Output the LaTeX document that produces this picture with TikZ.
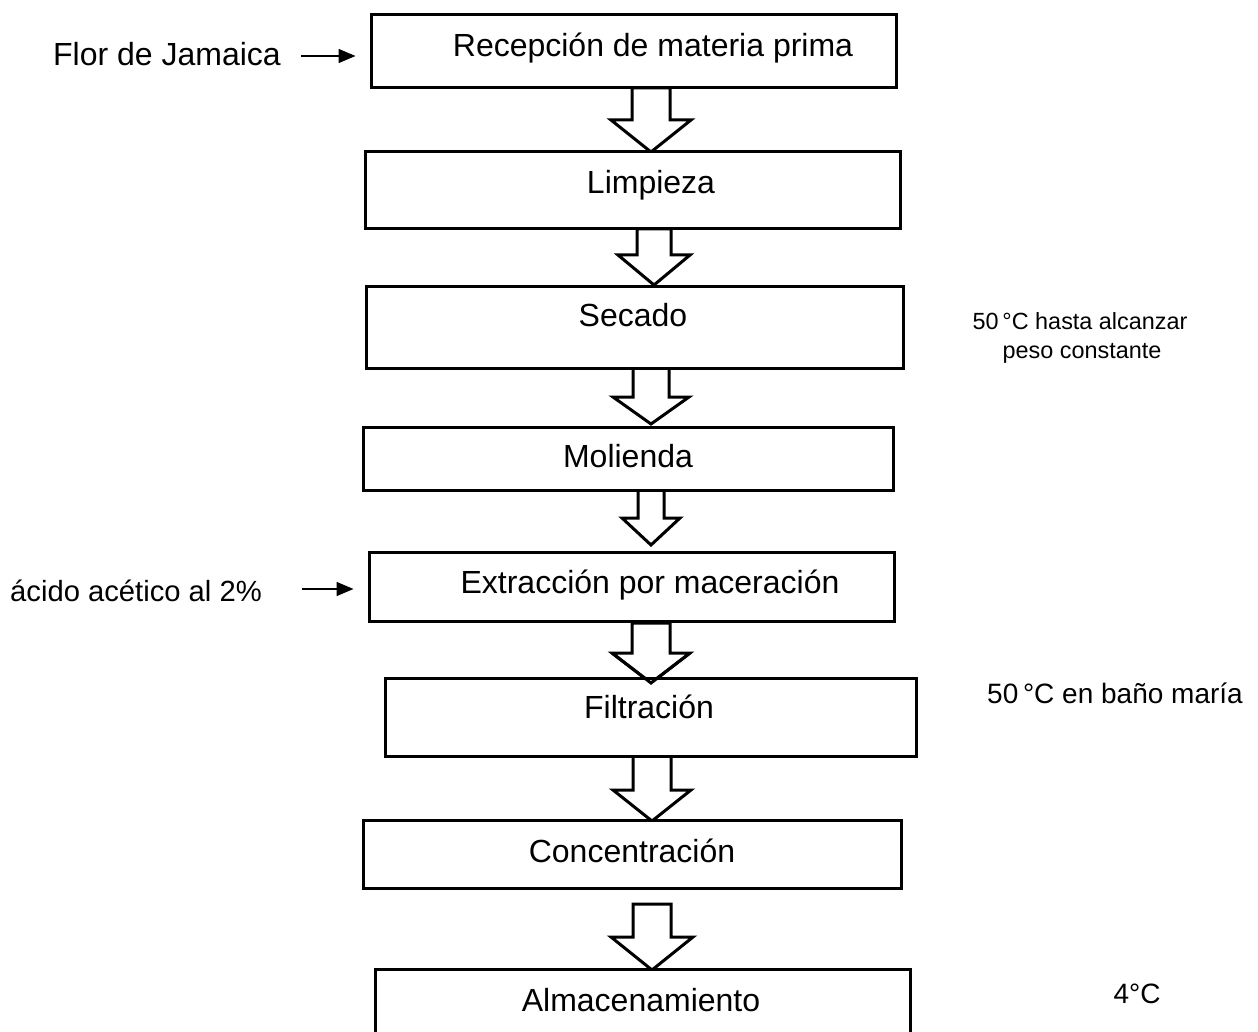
\documentclass[tikz,border=0pt]{standalone}
\usepackage{fontspec}
\setmainfont{Liberation Sans}
\usetikzlibrary{arrows.meta}
\newcommand\pbox[5]{%
  \node[box, minimum width={(#4-#2)*0.5pt}, minimum height={(#5-#3)*0.5pt}] (#1) at ({(#2+#4)/2},{(#3+#5)/2}) {};}
% name cx ytop yhead ytip shaft-halfwidth head-halfwidth
\newcommand\barrow[7]{%
  \draw[barr] ({#2-#6},#3) -- ({#2+#6},#3) -- ({#2+#6},#4) -- ({#2+#7},#4) -- (#2,#5) -- ({#2-#7},#4) -- ({#2-#6},#4) -- cycle;
  \coordinate (#1) at (#2,#5);}
\begin{document}
\begin{tikzpicture}[x=0.5pt,y=-0.5pt,
  box/.style={draw, line width=1.5pt, fill=white, inner sep=0pt},
  barr/.style={draw, line width=1.5pt, fill=white, line join=miter},
  lbl/.style={font=\fontsize{16pt}{19pt}\selectfont, inner sep=0pt, anchor=base},
  side/.style={font=\fontsize{11.7pt}{14pt}\selectfont, inner sep=0pt, anchor=base},
  mid/.style={font=\fontsize{14pt}{17pt}\selectfont, inner sep=0pt, anchor=base},
  inarr/.style={line width=0.8pt, -{Triangle[length=8.5pt,width=7pt]}, shorten >=7pt}]
\useasboundingbox (0,0) rectangle (1258,1032);
\clip (0,0) rectangle (1258,1032);
\fill[white] (0,0) rectangle (1258,1032);

% block arrows
\barrow{a1}{651}{88}{120}{152}{19}{40}
\barrow{a2}{654}{229}{255}{285}{17}{36}
\barrow{a3}{651}{368}{397}{424}{18}{38}
\barrow{a4}{651}{490}{518}{545}{13}{29}
\barrow{a5}{651}{623}{653}{683}{19}{39}
\barrow{a6}{652}{756}{790}{821}{19}{39}
\barrow{a7}{652}{904}{937}{970}{19}{41}

% boxes
\pbox{b1}{371}{15}{896}{88}
\pbox{b2}{365}{152}{900}{229}
\pbox{b3}{366}{287}{903}{368}
\pbox{b4}{363}{427}{893}{490}
\pbox{b5}{369}{552}{894}{621}
\pbox{b6}{385}{678}{916}{756}
\pbox{b7}{363}{820}{901}{888}
\pbox{b8}{375}{969}{910}{1045}

% arrow a5 tip overlaps box b6
\draw[line width=1.5pt] ({651-39},653) -- (651,683) -- ({651+39},653);

% labels in boxes
\node[lbl] (t1) at (653,57) {Recepción de materia prima};
\node[lbl] (t2) at (651,194) {Limpieza};
\node[lbl] (t3) at (633,327) {Secado};
\node[lbl] (t4) at (628,467) {Molienda};
\node[lbl] (t5) at (650,593) {Extracción por maceración};
\node[lbl] (t6) at (649,718) {Filtración};
\node[lbl] (t7) at (632,862) {Concentración};
\node[lbl] (t8) at (641,1011) {Almacenamiento};

% inputs
\node[lbl] (in1) at (167,66) {Flor de Jamaica};
\coordinate (s1) at (301,56);
\draw[inarr] (s1) -- (b1.west |- s1);
\node[mid, font=\fontsize{14.6pt}{17pt}\selectfont] (in2) at (136,601) {ácido acético al 2\%};
\coordinate (s2) at (302,589);
\draw[inarr] (s2) -- (b5.west |- s2);

% side notes
\node[side] (n1) at (1080,329) {50\,°C hasta alcanzar};
\node[side] (n2) at (1082,358) {peso constante};
\node[mid] (n3) at (1115,703) {50\,°C en baño maría};
\node[mid] (n4) at (1137,1003) {4°C};
\end{tikzpicture}
\end{document}
